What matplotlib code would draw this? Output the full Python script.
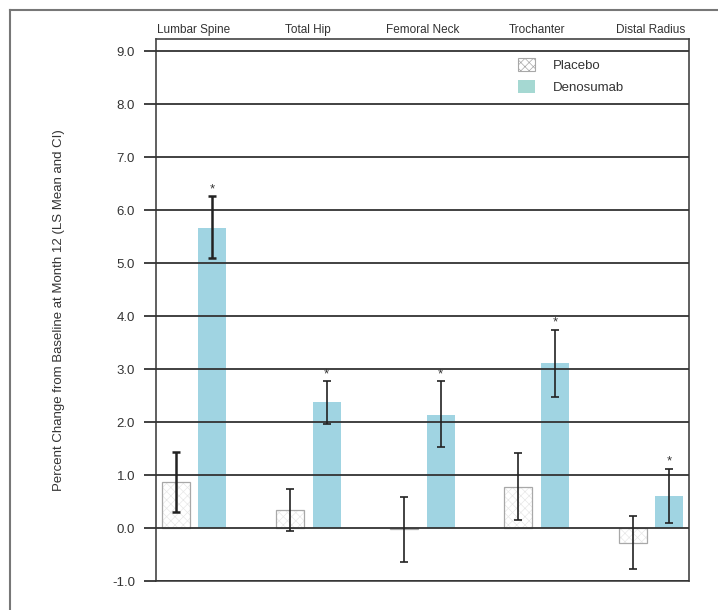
import matplotlib
matplotlib.use("Agg")
import matplotlib.pyplot as plt
import numpy as np
from matplotlib.patches import Patch
from matplotlib.lines import Line2D

plt.rcParams['font.family'] = ['Liberation Sans', 'DejaVu Sans']
plt.rcParams['hatch.linewidth'] = 0.5

categories = ["Lumbar Spine", "Total Hip", "Femoral Neck", "Trochanter", "Distal Radius"]
placebo = [0.86, 0.34, -0.02, 0.78, -0.29]
placebo_lo = [0.30, -0.05, -0.64, 0.15, -0.78]
placebo_hi = [1.43, 0.74, 0.59, 1.41, 0.23]
denosumab = [5.67, 2.37, 2.14, 3.12, 0.61]
denosumab_lo = [5.10, 1.97, 1.53, 2.47, 0.10]
denosumab_hi = [6.26, 2.77, 2.77, 3.74, 1.12]
significant = [True, True, True, True, True]
yticks = [-1.0, 0.0, 1.0, 2.0, 3.0, 4.0, 5.0, 6.0, 7.0, 8.0, 9.0]

W, H = 718, 610
fig = plt.figure(figsize=(W / 100, H / 100), dpi=100)
ax = fig.add_axes([156 / W, 1 - 581 / H, (689 - 156) / W, (581 - 39) / H])

x = np.arange(len(categories))
off = 0.16
bw = 0.245
blue = "#a0d4e2"

# placebo bars: faint hatch then outline
ax.bar(x - off, placebo, bw, color="white", edgecolor="#e8e8e8", linewidth=0,
       hatch="xxxx", zorder=2)
ax.bar(x - off, placebo, bw, color="none", edgecolor="#a8a8a8", linewidth=0.9, zorder=2.1)
ax.bar(x + off, denosumab, bw, color=blue, edgecolor="none", zorder=2)

pl = np.array(placebo); de = np.array(denosumab)
perr = [pl - np.array(placebo_lo), np.array(placebo_hi) - pl]
derr = [de - np.array(denosumab_lo), np.array(denosumab_hi) - de]
lws = [1.8, 1.2, 1.2, 1.2, 1.2]
for i in range(len(categories)):
    ax.errorbar(x[i] - off, placebo[i], yerr=[[perr[0][i]], [perr[1][i]]], fmt="none",
                ecolor="#222222", elinewidth=lws[i], capsize=3, capthick=lws[i], zorder=4)
    ax.errorbar(x[i] + off, denosumab[i], yerr=[[derr[0][i]], [derr[1][i]]], fmt="none",
                ecolor="#222222", elinewidth=lws[i], capsize=3, capthick=lws[i], zorder=4)
    if significant[i]:
        ax.annotate("*", (x[i] + off, denosumab_hi[i]), xytext=(0, 3),
                    textcoords="offset points", ha="center", va="baseline",
                    fontsize=9.5, color="#333333", zorder=5)

ax.set_xlim(-0.333, 4.333)
ax.set_ylim(-1.0, 9.23)
ax.set_yticks(yticks)
ax.set_yticklabels([f"{v:.1f}" for v in yticks], fontsize=9.5, color="#333333")
ax.tick_params(axis="y", direction="out", length=9, width=1.3, color="#333333", pad=6)
ax.yaxis.grid(True, color="#333333", linewidth=1.3, zorder=3)
ax.set_axisbelow(False)
for gl in ax.get_ygridlines():
    gl.set_zorder(3)

ax.xaxis.tick_top()
ax.set_xticks(x)
ax.set_xticklabels(categories, fontsize=8.5, color="#333333")
ax.tick_params(axis="x", length=0, pad=2)

for s in ax.spines.values():
    s.set_color("#444444")
    s.set_linewidth(1.2)

ax.set_ylabel("Percent Change from Baseline at Month 12 (LS Mean and CI)",
              fontsize=9.5, color="#333333", labelpad=34)

handles = [Patch(facecolor="white", edgecolor="#a8a8a8", hatch="xxxx", linewidth=0.8),
           Patch(facecolor="#a5d8d2", edgecolor="none")]
leg = ax.legend(handles, ["Placebo", "Denosumab"], loc="upper left",
                bbox_to_anchor=((518 - 156) / 533, (581 - 58) / 542),
                frameon=False, fontsize=9.5, handlelength=1.3, handleheight=1.1,
                handletextpad=1.35, labelspacing=0.65, borderpad=0, borderaxespad=0)
for t in leg.get_texts():
    t.set_color("#333333")

# outer border (top and left visible)
fig.add_artist(Line2D([10 / W, 1.0], [1 - 10 / H, 1 - 10 / H], color="#777777",
                      linewidth=1.5, transform=fig.transFigure))
fig.add_artist(Line2D([10 / W, 10 / W], [0.0, 1 - 10 / H], color="#777777",
                      linewidth=1.5, transform=fig.transFigure))

fig.savefig("out.png", dpi=100)
